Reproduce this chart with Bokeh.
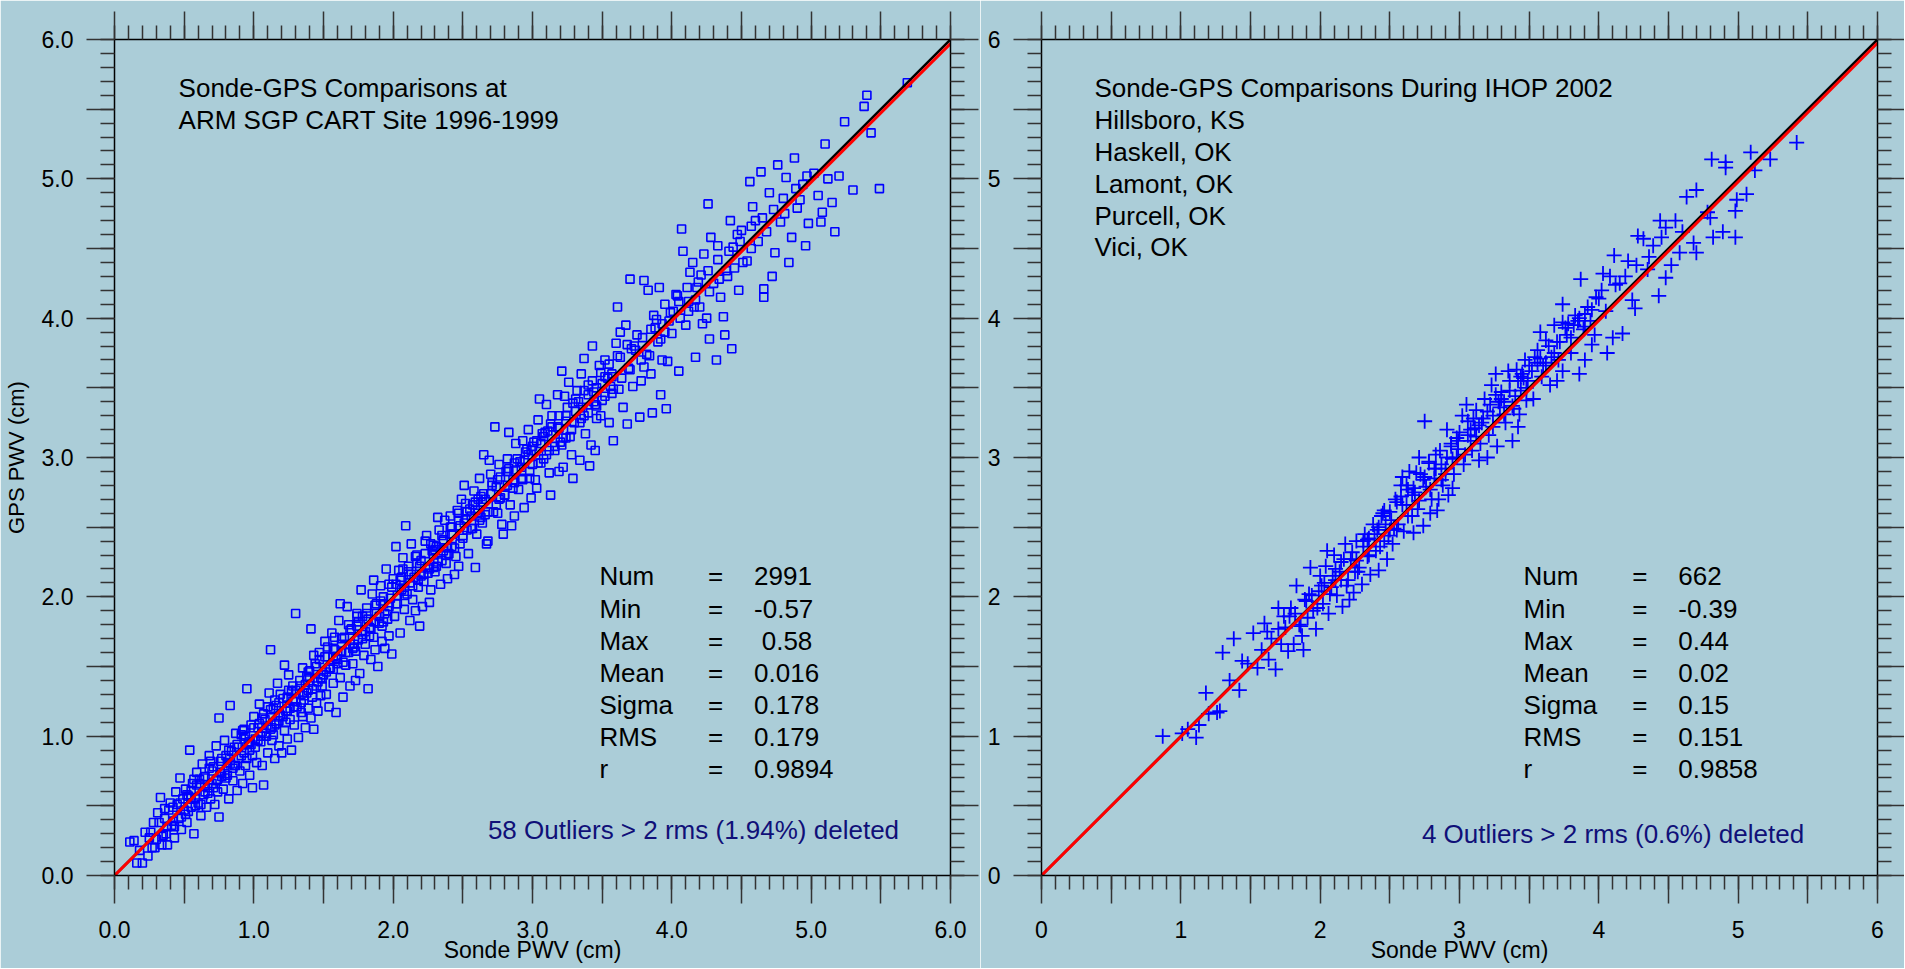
from bokeh.plotting import figure
from bokeh.layouts import row
from bokeh.models import Range1d, FixedTicker, LinearAxis, PrintfTickFormatter
from bokeh.core.properties import value
from bokeh.embed import file_html
from bokeh.resources import INLINE

FONT = "Liberation Sans"
BG = "#abcdd8"
NAVY = "#101078"

# ---------------- data ----------------
sonde_left = [
    0.11, 0.14, 0.16, 0.18, 0.20, 0.22, 0.24, 0.25, 0.27, 0.28,
    0.30, 0.31, 0.33, 0.34, 0.36, 0.37, 0.38, 0.40, 0.41, 0.43,
    0.44, 0.46, 0.47, 0.48, 0.49,
    0.50, 0.51, 0.52, 0.53, 0.54, 0.55, 0.56, 0.57, 0.58, 0.59,
    0.60, 0.61, 0.62, 0.63, 0.64, 0.65, 0.66, 0.67, 0.68, 0.69,
    0.70, 0.71, 0.72, 0.73, 0.74, 0.75, 0.75, 0.76, 0.77, 0.78,
    0.79, 0.80, 0.81, 0.82, 0.83, 0.84, 0.85, 0.86, 0.87, 0.88,
    0.89, 0.90, 0.91, 0.92, 0.93, 0.94, 0.95, 0.96, 0.97, 0.98,
    0.99, 0.99, 0.97, 0.93, 0.86,
    1.00, 1.01, 1.02, 1.03, 1.04, 1.05, 1.06, 1.07, 1.08, 1.09,
    1.10, 1.11, 1.12, 1.12, 1.13, 1.14, 1.15, 1.16, 1.17, 1.18,
    1.19, 1.20, 1.21, 1.22, 1.23, 1.24, 1.25, 1.26, 1.27, 1.28,
    1.29, 1.30, 1.30, 1.31, 1.32, 1.33, 1.34, 1.35, 1.36, 1.37,
    1.38, 1.39, 1.40, 1.41, 1.41, 1.42, 1.43, 1.44, 1.45, 1.46,
    1.47, 1.48, 1.49, 1.35, 1.25, 1.15, 1.05, 1.45, 1.22, 1.38,
    1.50, 1.51, 1.52, 1.53, 1.54, 1.55, 1.56, 1.57, 1.58, 1.59,
    1.60, 1.61, 1.62, 1.63, 1.64, 1.65, 1.66, 1.67, 1.68, 1.69,
    1.70, 1.71, 1.72, 1.73, 1.74, 1.75, 1.76, 1.77, 1.78, 1.79,
    1.80, 1.81, 1.82, 1.83, 1.84, 1.85, 1.86, 1.87, 1.88, 1.89,
    1.90, 1.91, 1.92, 1.93, 1.94, 1.95, 1.96, 1.97, 1.98, 1.99,
    1.62, 1.74, 1.86, 1.93, 1.57,
    2.00, 2.01, 2.02, 2.03, 2.04, 2.05, 2.06, 2.07, 2.08, 2.09,
    2.10, 2.11, 2.12, 2.13, 2.14, 2.15, 2.16, 2.17, 2.18, 2.19,
    2.20, 2.22, 2.24, 2.26, 2.28, 2.30, 2.32, 2.34, 2.36, 2.38,
    2.40, 2.42, 2.44, 2.46, 2.48, 2.21, 2.27, 2.33, 2.39, 2.45,
    2.23, 2.29, 2.35, 2.41, 2.47, 2.25, 2.31, 2.37, 2.43, 2.49,
    2.50, 2.52, 2.54, 2.56, 2.58, 2.60, 2.62, 2.64, 2.66, 2.68,
    2.70, 2.72, 2.74, 2.76, 2.78, 2.80, 2.82, 2.84, 2.86, 2.88,
    2.90, 2.92, 2.94, 2.96, 2.98, 2.51, 2.57, 2.63, 2.69, 2.75,
    2.81, 2.87, 2.93, 2.99, 2.55, 2.65, 2.79, 2.91, 2.67, 2.83,
    2.59, 2.73, 2.85, 2.97, 2.61,
    3.00, 3.02, 3.04, 3.06, 3.08, 3.10, 3.12, 3.14, 3.16, 3.18,
    3.20, 3.22, 3.24, 3.26, 3.28, 3.30, 3.32, 3.34, 3.36, 3.38,
    3.40, 3.42, 3.44, 3.46, 3.48, 3.05, 3.13, 3.21, 3.29, 3.37,
    3.45, 3.11, 3.27, 3.43, 3.19, 3.35, 3.49, 3.03, 3.23, 3.41,
    3.50, 3.52, 3.55, 3.57, 3.60, 3.62, 3.65, 3.67, 3.70, 3.72,
    3.75, 3.77, 3.80, 3.82, 3.85, 3.87, 3.90, 3.92, 3.95, 3.97,
    3.70, 3.58, 3.63, 3.68, 3.78, 3.83, 3.88, 3.93, 3.98, 3.54,
    3.73, 3.86, 3.96, 3.61, 3.91,
    4.00, 4.03, 4.07, 4.10, 4.13, 4.17, 4.20, 4.23, 4.27, 4.30,
    4.33, 4.37, 4.40, 4.43, 4.47, 4.26, 4.05, 4.15, 4.35, 4.45,
    4.12, 4.22, 4.32, 4.42, 4.08, 4.18, 4.28, 4.38, 4.48, 4.25,
    4.50, 4.54, 4.58, 4.62, 4.66, 4.66, 4.70, 4.74, 4.78, 4.82,
    4.86, 4.90, 4.94, 4.98, 4.56, 4.64, 4.72, 4.80, 4.88, 4.96,
    4.60, 4.76, 4.92, 4.84, 4.68,
    5.07, 5.10, 5.17, 5.24, 5.30, 5.38, 5.40, 5.43, 5.49, 5.69,
    5.02, 5.05, 5.12, 5.20, 5.15, 5.08,
    # denser core of the band
    0.32, 0.35, 0.39, 0.42, 0.45, 0.48, 0.52, 0.55, 0.58, 0.61,
    0.64, 0.67, 0.70, 0.73, 0.76, 0.79, 0.82, 0.85, 0.88, 0.91,
    0.94, 0.97, 1.00, 1.03, 1.06, 1.09, 1.12, 1.15, 1.18, 1.21,
    1.24, 1.27, 1.30, 1.33, 1.36, 1.39, 1.42, 1.45, 1.48, 1.51,
    1.54, 1.57, 1.60, 1.63, 1.66, 1.69, 1.72, 1.75, 1.78, 1.81,
    1.84, 1.87, 1.90, 1.93, 1.96, 1.99, 2.02, 2.05, 2.08, 2.11,
    2.14, 2.17, 2.20, 2.23, 2.26, 2.29, 2.32, 2.35, 2.38, 2.41,
    2.44, 2.47, 2.50, 2.53, 2.56, 2.59, 2.62, 2.65, 2.68, 2.71,
    2.74, 2.77, 2.80, 2.83, 2.86, 2.89, 2.92, 2.95, 2.98, 3.01,
    3.04, 3.07, 3.10, 3.13, 3.16, 3.19, 3.22, 3.25, 3.28, 3.31,
    3.34, 3.37, 3.40, 3.43, 3.46, 3.49, 3.52, 3.55, 3.58, 3.61,
    0.36, 0.43, 0.51, 0.57, 0.62, 0.69, 0.74, 0.81, 0.87, 0.92,
    0.98, 1.04, 1.10, 1.14, 1.19, 1.23, 1.28, 1.34, 1.39, 1.43,
    1.49, 1.53, 1.58, 1.64, 1.68, 1.73, 1.78, 1.83, 1.88, 1.92,
    1.97, 2.03, 2.07, 2.12, 2.16, 2.22, 2.27, 2.31, 2.36, 2.42,
    2.47, 2.51, 2.57, 2.61, 2.66, 2.71, 2.77, 2.82, 2.87, 2.93,
    2.97, 3.03, 3.08, 3.14, 3.19, 3.24, 3.29, 3.35, 3.40, 3.46,
    3.52, 3.57, 3.63, 3.69, 3.74, 3.79, 3.84, 3.89, 3.95, 4.01,
    4.06, 4.11, 4.16, 4.21, 4.27, 4.33, 4.39, 4.44, 4.51, 4.57,
    0.26, 0.29, 0.34, 0.38, 0.42, 0.47, 0.53, 0.59, 0.65, 0.71,
    0.77, 0.83, 0.89, 0.95, 1.01, 1.07, 1.13, 1.18, 1.24, 1.29,
    1.35, 1.40, 1.46, 1.52, 1.57, 1.63, 1.69, 1.74, 1.80, 1.86,
    1.91, 1.97, 2.02, 2.08, 2.13, 2.19, 2.25, 2.30, 2.36, 2.42,
    2.48, 2.53, 2.59, 2.64, 2.70, 2.76, 2.82, 2.88, 2.94, 3.00,
    3.06, 3.12, 3.18, 3.24, 3.31, 3.37, 3.44, 3.50, 3.57, 3.64,
    3.71, 3.78, 3.85, 3.92, 3.99, 4.05, 4.12, 4.19, 4.26, 4.34,
    4.41, 4.49, 4.57, 4.65, 4.73, 4.81, 4.89, 4.97, 0.55, 0.68,
    0.80, 0.93, 1.06, 1.16, 1.26, 1.37, 1.47, 1.59, 1.71, 1.82,
    1.94, 2.06, 2.18, 2.29, 2.39, 2.52, 2.63, 2.75, 2.87, 2.99,
    3.09, 3.21, 3.33, 3.45, 3.56, 3.68, 3.80, 3.93, 4.04, 4.17,
]
gps_left = [
    0.24, 0.25, 0.09, 0.18, 0.09, 0.31, 0.14, 0.27, 0.20, 0.38,
    0.26, 0.45, 0.56, 0.22, 0.41, 0.30, 0.22, 0.52, 0.36, 0.27,
    0.60, 0.41, 0.70, 0.33, 0.55,
    0.47, 0.62, 0.38, 0.57, 0.90, 0.49, 0.66, 0.30, 0.55, 0.74,
    0.52, 0.69, 0.43, 0.80, 0.58, 0.71, 0.49, 0.63, 0.86, 0.55,
    0.66, 0.78, 0.51, 0.93, 0.60, 1.13, 0.42, 0.74, 0.84, 0.62,
    0.97, 0.70, 0.81, 0.55, 1.22, 0.89, 0.68, 0.79, 1.02, 0.61,
    0.84, 0.75, 1.01, 0.66, 0.88, 0.79, 1.34, 0.95, 0.72, 1.08,
    0.86, 0.63, 0.96, 1.05, 0.92,
    1.14, 0.92, 0.81, 1.06, 1.23, 0.96, 0.79, 0.65, 1.12, 1.00,
    0.88, 1.31, 1.62, 1.05, 0.97, 1.20, 0.84, 1.09, 1.38, 0.93,
    1.15, 0.88, 1.27, 1.04, 1.18, 0.98, 1.44, 1.12, 0.90, 1.25,
    1.08, 1.88, 1.33, 1.21, 0.99, 1.36, 1.17, 1.49, 1.26, 1.06,
    1.31, 1.20, 1.42, 1.77, 1.13, 1.28, 1.05, 1.52, 1.36, 1.18,
    1.60, 1.29, 1.41, 1.14, 1.33, 1.26, 1.00, 1.24, 1.51, 1.43,
    1.44, 1.68, 1.30, 1.57, 1.21, 1.49, 1.74, 1.38, 1.62, 1.17,
    1.55, 1.83, 1.42, 1.66, 1.28, 1.71, 1.51, 1.93, 1.60, 1.36,
    1.77, 1.52, 1.64, 1.40, 1.86, 1.69, 1.45, 2.05, 1.73, 1.58,
    1.66, 1.92, 1.34, 1.78, 1.55, 2.02, 1.71, 1.62, 1.88, 1.50,
    1.81, 2.08, 1.68, 1.95, 1.63, 2.20, 1.84, 1.72, 1.99, 1.59,
    1.95, 1.88, 2.12, 1.82, 1.48,
    2.13, 1.86, 2.36, 1.95, 2.19, 1.74, 2.05, 2.28, 1.91, 2.51,
    2.02, 2.22, 1.83, 2.38, 1.98, 2.14, 1.90, 2.30, 2.07, 1.79,
    2.26, 2.11, 2.44, 1.96, 2.33, 2.18, 2.57, 2.09, 2.41, 2.24,
    2.31, 2.50, 2.16, 2.62, 2.38, 1.93, 2.05, 2.48, 2.13, 2.29,
    2.40, 2.21, 2.26, 2.58, 2.22, 2.17, 2.36, 2.55, 2.45, 2.70,
    2.42, 2.67, 2.31, 2.58, 2.76, 2.45, 2.85, 2.53, 2.70, 2.40,
    2.88, 2.61, 2.79, 2.95, 2.52, 2.73, 2.99, 2.66, 2.84, 3.10,
    2.77, 2.93, 2.64, 3.06, 2.85, 2.80, 2.49, 2.72, 2.98, 2.60,
    2.90, 2.58, 3.12, 2.71, 2.63, 3.02, 2.45, 2.97, 2.38, 3.18,
    2.21, 3.22, 2.51, 3.20, 2.60,
    3.08, 2.84, 3.27, 2.96, 3.15, 3.38, 2.89, 3.22, 3.05, 3.45,
    3.11, 2.93, 3.30, 3.54, 3.02, 3.25, 3.48, 2.98, 3.36, 3.17,
    3.52, 3.09, 3.40, 3.28, 3.66, 3.42, 2.73, 3.62, 2.85, 3.71,
    3.05, 3.19, 3.15, 3.80, 2.90, 3.60, 3.30, 2.78, 3.44, 2.94,
    3.41, 3.70, 3.25, 3.58, 3.82, 3.49, 3.36, 3.95, 3.63, 3.51,
    3.88, 3.29, 4.27, 3.74, 3.60, 4.02, 3.83, 3.45, 4.10, 3.69,
    4.28, 3.12, 3.90, 3.24, 3.55, 4.20, 3.93, 3.70, 3.98, 3.57,
    3.80, 3.32, 3.35, 4.08, 4.22,
    3.89, 4.17, 4.64, 3.95, 4.33, 3.72, 4.08, 4.46, 3.85, 4.25,
    4.52, 4.01, 4.30, 3.78, 4.60, 4.82, 3.62, 4.40, 4.15, 4.36,
    4.12, 3.96, 3.70, 4.70, 4.48, 4.22, 4.58, 3.88, 4.20, 4.00,
    4.63, 4.41, 4.80, 4.55, 4.15, 4.21, 4.90, 4.47, 4.69, 5.01,
    4.58, 4.79, 4.96, 4.68, 4.98, 5.05, 4.30, 4.86, 5.15, 4.52,
    4.70, 5.10, 4.85, 4.40, 4.62,
    4.69, 5.25, 4.62, 5.41, 4.92, 5.52, 5.60, 5.33, 4.93, 5.69,
    5.04, 4.88, 5.00, 5.02, 4.83, 4.76,
    # denser core of the band
    0.38, 0.29, 0.47, 0.39, 0.51, 0.42, 0.58, 0.61, 0.50, 0.66,
    0.70, 0.59, 0.75, 0.68, 0.82, 0.73, 0.90, 0.77, 0.94, 0.86,
    1.00, 0.90, 1.06, 0.97, 1.13, 1.02, 1.19, 1.08, 1.24, 1.14,
    1.18, 1.32, 1.25, 1.40, 1.29, 1.46, 1.34, 1.50, 1.42, 1.57,
    1.48, 1.63, 1.52, 1.70, 1.60, 1.76, 1.66, 1.82, 1.70, 1.88,
    1.77, 1.94, 1.86, 2.00, 1.90, 2.07, 1.95, 2.12, 2.01, 2.18,
    2.08, 2.24, 2.15, 2.31, 2.20, 2.37, 2.25, 2.44, 2.30, 2.50,
    2.35, 2.55, 2.44, 2.61, 2.49, 2.68, 2.55, 2.74, 2.61, 2.80,
    2.66, 2.86, 2.73, 2.92, 2.78, 2.99, 2.85, 3.04, 2.90, 3.11,
    2.96, 3.17, 3.02, 3.24, 3.08, 3.30, 3.14, 3.36, 3.20, 3.42,
    3.25, 3.48, 3.32, 3.55, 3.37, 3.61, 3.44, 3.67, 3.49, 3.73,
    0.48, 0.35, 0.44, 0.69, 0.51, 0.82, 0.69, 0.72, 0.79, 1.04,
    0.94, 1.09, 1.21, 1.01, 1.30, 1.10, 1.36, 1.24, 1.33, 1.58,
    1.36, 1.64, 1.71, 1.53, 1.80, 1.61, 1.86, 1.72, 1.95, 1.79,
    2.09, 2.01, 2.20, 2.10, 2.29, 2.16, 2.38, 2.22, 2.33, 2.36,
    2.60, 2.53, 2.66, 2.70, 2.59, 2.82, 2.71, 2.90, 2.96, 2.84,
    3.02, 3.12, 2.99, 3.30, 3.21, 3.14, 3.39, 3.28, 3.45, 3.50,
    3.58, 3.46, 3.72, 3.64, 3.77, 3.86, 3.73, 3.99, 3.90, 4.05,
    4.00, 4.22, 4.08, 4.31, 4.19, 4.42, 4.34, 4.51, 4.40, 4.66,
    0.31, 0.20, 0.28, 0.35, 0.49, 0.52, 0.46, 0.65, 0.60, 0.63,
    0.71, 0.80, 0.92, 0.84, 0.98, 1.16, 1.06, 1.11, 1.28, 1.21,
    1.31, 1.47, 1.39, 1.46, 1.57, 1.61, 1.66, 1.79, 1.75, 1.82,
    1.97, 1.93, 2.09, 2.04, 2.16, 2.22, 2.21, 2.34, 2.40, 2.45,
    2.51, 2.48, 2.62, 2.68, 2.74, 2.70, 2.80, 2.91, 2.98, 2.95,
    3.10, 3.05, 3.22, 3.26, 3.33, 3.30, 3.47, 3.53, 3.60, 3.57,
    3.78, 3.70, 3.92, 3.85, 4.04, 4.12, 4.05, 4.26, 4.34, 4.28,
    4.48, 4.55, 4.50, 4.72, 4.78, 4.75, 4.93, 5.02, 0.56, 0.77,
    0.86, 0.98, 1.03, 1.22, 1.20, 1.37, 1.55, 1.56, 1.63, 1.84,
    1.88, 2.14, 2.12, 2.30, 2.35, 2.56, 2.57, 2.84, 2.82, 3.05,
    3.18, 3.09, 3.40, 3.38, 3.51, 3.81, 3.65, 3.96, 4.16, 4.13,
]

sonde_right = [
    0.87, 1.01, 1.05, 1.11, 1.13, 1.18, 1.26, 1.28, 1.30, 1.38,
    1.44, 1.20, 1.35, 1.42, 1.48,
    1.52, 1.55, 1.58, 1.60, 1.63, 1.65, 1.68, 1.70, 1.72, 1.75,
    1.77, 1.79, 1.81, 1.83, 1.85, 1.87, 1.89, 1.91, 1.93, 1.95,
    1.97, 1.99, 1.62, 1.74, 1.88,
    2.00, 2.02, 2.04, 2.06, 2.08, 2.10, 2.12, 2.14, 2.16, 2.18,
    2.20, 2.22, 2.24, 2.26, 2.28, 2.30, 2.32, 2.34, 2.36, 2.38,
    2.40, 2.42, 2.44, 2.46, 2.48, 2.05, 2.15, 2.25, 2.35, 2.45,
    2.11, 2.21, 2.31, 2.41, 2.49,
    2.50, 2.52, 2.54, 2.56, 2.58, 2.60, 2.62, 2.64, 2.66, 2.68,
    2.70, 2.72, 2.74, 2.76, 2.78, 2.80, 2.82, 2.84, 2.86, 2.88,
    2.90, 2.92, 2.94, 2.96, 2.98, 2.55, 2.63, 2.71, 2.79, 2.87,
    2.95, 2.59, 2.67, 2.83, 2.91, 2.99, 2.53, 2.75, 2.85, 2.69,
    3.00, 3.03, 3.06, 3.09, 3.12, 3.15, 3.18, 3.21, 3.24, 3.27,
    3.30, 3.33, 3.36, 3.39, 3.42, 3.45, 3.48, 3.05, 3.14, 3.23,
    3.32, 3.41, 3.47, 3.11, 3.20, 3.29, 3.38, 3.44, 3.02, 3.35,
    3.26, 3.17, 3.08, 3.43, 3.49,
    3.50, 3.53, 3.56, 3.59, 3.62, 3.65, 3.68, 3.71, 3.74, 3.77,
    3.80, 3.83, 3.86, 3.89, 3.92, 3.95, 3.98, 3.58, 3.66, 3.74,
    3.82, 3.90, 3.97, 3.70, 3.87,
    4.03, 4.06, 4.10, 4.11, 4.17, 4.21, 4.24, 4.26, 4.28, 4.32,
    4.39, 4.43, 4.44, 4.48, 4.48, 4.52, 4.55, 4.58, 4.63, 4.68,
    4.70, 4.70, 4.78, 4.80, 4.81, 4.82, 4.89, 4.91, 4.91, 4.98,
    4.98, 4.99, 5.06, 5.09, 5.12, 5.23, 5.42, 4.15, 4.35, 4.60,
    # denser core
    1.82, 1.86, 1.90, 1.94, 1.98, 2.03, 2.07, 2.11, 2.15, 2.19,
    2.23, 2.27, 2.31, 2.35, 2.39, 2.43, 2.47, 2.51, 2.55, 2.59,
    2.63, 2.67, 2.71, 2.75, 2.79, 2.83, 2.87, 2.91, 2.95, 2.99,
    3.04, 3.08, 3.12, 3.16, 3.20, 3.24, 3.28, 3.32, 3.36, 3.40,
    3.44, 3.48, 3.52, 3.56, 3.60, 3.64, 3.68, 3.72, 3.76, 3.80,
    3.85, 3.90, 3.95, 4.00, 4.05, 4.12, 4.19, 4.27, 4.36, 4.45,
    1.92, 2.01, 2.09, 2.17, 2.26, 2.34, 2.42, 2.50, 2.58, 2.66,
    2.74, 2.82, 2.90, 2.98, 3.06, 3.14, 3.22, 3.30, 3.38, 3.46,
    3.54, 3.62, 3.70, 3.78, 3.86, 3.94, 4.02, 1.70, 1.78, 2.46,
    2.62, 2.78, 2.94, 3.10, 3.26, 3.42, 3.58, 3.74, 3.90, 4.08,
]
gps_right = [
    1.00, 1.02, 1.05, 0.99, 1.08, 1.31, 1.17, 1.18, 1.60, 1.70,
    1.54, 1.16, 1.40, 1.33, 1.52,
    1.74, 1.49, 1.62, 1.81, 1.55, 1.70, 1.48, 1.92, 1.66, 1.78,
    1.61, 1.92, 1.66, 2.08, 1.80, 1.72, 1.98, 1.85, 2.21, 1.90,
    1.77, 2.04, 1.75, 1.86, 1.62,
    2.15, 1.95, 2.22, 1.88, 2.07, 2.30, 2.01, 2.18, 1.93, 2.38,
    2.12, 2.27, 2.03, 2.40, 2.21, 2.09, 2.45, 2.29, 2.16, 2.52,
    2.33, 2.19, 2.58, 2.40, 2.27, 2.33, 2.25, 2.18, 2.42, 2.60,
    2.12, 1.98, 2.36, 2.48, 2.44,
    2.61, 2.38, 2.70, 2.52, 2.80, 2.47, 2.66, 2.90, 2.58, 2.75,
    2.63, 2.88, 2.51, 2.79, 2.96, 2.70, 2.85, 2.62, 3.05, 2.80,
    2.92, 2.73, 3.10, 2.88, 3.00, 2.68, 2.77, 3.00, 2.60, 2.95,
    2.78, 2.86, 2.46, 3.02, 3.20, 3.12, 2.49, 3.26, 2.70, 2.89,
    3.18, 2.95, 3.26, 3.05, 3.34, 3.10, 3.42, 3.16, 3.30, 3.08,
    3.47, 3.25, 3.55, 3.35, 3.22, 3.60, 3.41, 3.38, 2.98, 3.52,
    3.40, 3.63, 3.70, 3.21, 3.00, 3.36, 3.12, 3.48, 3.30, 3.62,
    3.60, 3.28, 3.12, 3.31, 3.55,
    3.66, 3.42, 3.77, 3.58, 3.84, 3.52, 3.95, 3.70, 3.62, 3.88,
    3.75, 4.02, 3.60, 3.92, 4.08, 3.81, 4.15, 3.90, 3.72, 4.10,
    3.95, 3.70, 3.88, 3.55, 4.28,
    4.32, 3.75, 3.86, 4.45, 3.89, 4.41, 4.13, 4.07, 4.59, 4.57,
    4.52, 4.16, 4.70, 4.65, 4.29, 4.38, 4.70, 4.47, 4.87, 4.54,
    4.92, 4.47, 4.76, 4.72, 5.14, 4.58, 4.62, 5.12, 5.08, 4.77,
    4.58, 4.85, 4.89, 5.19, 5.06, 5.14, 5.26, 4.25, 4.35, 4.62,
    # denser core
    1.88, 1.79, 1.97, 2.01, 1.92, 2.10, 2.02, 2.20, 2.12, 2.08,
    2.32, 2.18, 2.40, 2.30, 2.45, 2.36, 2.52, 2.55, 2.48, 2.66,
    2.58, 2.78, 2.69, 2.86, 2.77, 2.92, 2.84, 3.00, 2.99, 3.06,
    3.02, 3.20, 3.15, 3.25, 3.33, 3.22, 3.40, 3.31, 3.48, 3.44,
    3.58, 3.50, 3.62, 3.68, 3.66, 3.80, 3.75, 3.83, 3.93, 3.86,
    3.98, 3.94, 4.06, 4.14, 4.05, 4.24, 4.30, 4.38, 4.44, 4.58,
    2.02, 2.08, 2.15, 2.27, 2.26, 2.41, 2.50, 2.48, 2.72, 2.73,
    2.84, 2.92, 2.88, 3.14, 3.16, 3.23, 3.38, 3.42, 3.37, 3.57,
    3.72, 3.68, 3.83, 3.96, 4.00, 3.98, 4.20, 1.77, 1.86, 2.62,
    2.80, 2.97, 3.08, 3.28, 3.45, 3.55, 3.71, 3.97, 4.03, 4.30,
]
assert len(sonde_left) == len(gps_left), (len(sonde_left), len(gps_left))
assert len(sonde_right) == len(gps_right), (len(sonde_right), len(gps_right))

# 1:1 line and fitted line end points (cm)
one_to_one_x = [0.0, 6.0]
one_to_one_y = [0.0, 6.0]
fit_left_x = [0.0, 6.0]
fit_left_y = [0.0, 5.97]
fit_right_x = [0.0, 6.0]
fit_right_y = [0.0, 5.975]

left_title = ["Sonde-GPS Comparisons at", "ARM SGP CART Site 1996-1999"]
right_title = ["Sonde-GPS Comparisons During IHOP 2002", "Hillsboro, KS",
               "Haskell, OK", "Lamont, OK", "Purcell, OK", "Vici, OK"]
stat_names = ["Num", "Min", "Max", "Mean", "Sigma", "RMS", "r"]
left_stats = ["2991", "-0.57", "0.58", "0.016", "0.178", "0.179", "0.9894"]
right_stats = ["662", "-0.39", "0.44", "0.02", "0.15", "0.151", "0.9858"]
left_note = "58 Outliers > 2 rms (1.94%) deleted"
right_note = "4 Outliers > 2 rms (0.6%) deleted"

x_label = "Sonde PWV (cm)"
y_label = "GPS PWV (cm)"
major_ticks = [0.0, 0.5, 1.0, 1.5, 2.0, 2.5, 3.0, 3.5, 4.0, 4.5, 5.0, 5.5, 6.0]
minor_ticks = [round(i * 0.1, 1) for i in range(61)]

FIG_H = 968
TICK_LONG = 28
TICK_SHORT = 14


def style_axis(ax, labelled, fmt=None, tick_out=TICK_LONG):
    ax.ticker = FixedTicker(ticks=major_ticks, minor_ticks=minor_ticks)
    ax.major_tick_in = 0
    ax.minor_tick_in = 0
    ax.major_tick_out = tick_out
    ax.minor_tick_out = TICK_SHORT
    ax.axis_line_color = "black"
    ax.axis_line_width = 1.5
    ax.major_tick_line_color = "#333333"
    ax.minor_tick_line_color = "#333333"
    ax.major_tick_line_width = 1.5
    ax.minor_tick_line_width = 1.5
    if labelled:
        ax.formatter = PrintfTickFormatter(format=fmt)
        ax.major_label_overrides = {t: "" for t in major_ticks if t != int(t)}
        ax.major_label_text_font = FONT
        ax.major_label_text_font_size = "23px"
        ax.major_label_text_color = "black"
    else:
        ax.major_label_overrides = {t: "" for t in major_ticks}
        ax.major_label_text_font_size = "0px"
        ax.major_label_standoff = 0
        ax.axis_label_standoff = 0


def make_fig(width, b_left, b_right, fmt, right_tick, with_ylabel):
    p = figure(width=width, height=FIG_H, x_range=Range1d(0, 6), y_range=Range1d(0, 6),
               output_backend="svg", toolbar_location=None,
               min_border_left=b_left, min_border_right=b_right,
               min_border_top=39, min_border_bottom=93,
               background_fill_color=BG, border_fill_color=BG)
    p.outline_line_color = None
    p.xgrid.grid_line_color = None
    p.ygrid.grid_line_color = None

    xb = p.xaxis[0]
    yl = p.yaxis[0]
    style_axis(xb, True, fmt)
    style_axis(yl, True, fmt)
    xb.major_label_standoff = 17
    yl.major_label_standoff = 13
    xb.axis_label = x_label
    xb.axis_label_text_font = FONT
    xb.axis_label_text_font_size = "23px"
    xb.axis_label_text_font_style = "normal"
    xb.axis_label_text_color = "black"
    xb.axis_label_standoff = -4
    if with_ylabel:
        yl.axis_label = y_label
        yl.axis_label_text_font = FONT
        yl.axis_label_text_font_size = "22px"
        yl.axis_label_text_font_style = "normal"
        yl.axis_label_text_color = "black"
        yl.axis_label_standoff = 10

    top = LinearAxis()
    style_axis(top, False)
    p.add_layout(top, "above")
    rgt = LinearAxis()
    style_axis(rgt, False, tick_out=right_tick)
    p.add_layout(rgt, "right")
    return p


def add_text(p, xs, ys, texts, color="black", size="26px"):
    p.text(x=xs, y=ys, text=texts, text_font=value(FONT), text_font_size=size,
           text_color=color, text_baseline="middle", text_align="left")


# ---------------- left panel ----------------
p1 = make_fig(980, 112, 30, "%.1f", TICK_LONG, True)
p1.scatter(sonde_left, gps_left, marker="square", size=8, fill_color=None,
           line_color="#0000ff", line_width=1.6)
p1.line(one_to_one_x, one_to_one_y, line_color="black", line_width=2.5)
p1.line(fit_left_x, fit_left_y, line_color="#ff0000", line_width=3)

row_y = [2.146 - 0.2305 * i for i in range(7)]
add_text(p1, [0.46, 0.46], [5.65, 5.42], left_title)
add_text(p1, [3.48] * 7, row_y, stat_names)
add_text(p1, [4.26] * 7, row_y, ["="] * 7)
add_text(p1, [4.59, 4.59, 4.645, 4.59, 4.59, 4.59, 4.59], row_y, left_stats)
add_text(p1, [2.68], [0.33], [left_note], color=NAVY)

# ---------------- right panel ----------------
p2 = make_fig(924, 61, 27, "%d", 27, False)
p2.scatter(sonde_right, gps_right, marker="cross", size=15,
           line_color="#0000ff", line_width=1.8)
p2.line(one_to_one_x, one_to_one_y, line_color="black", line_width=2.5)
p2.line(fit_right_x, fit_right_y, line_color="#ff0000", line_width=3)

add_text(p2, [0.38] * 6, [5.65 - 0.2285 * i for i in range(6)], right_title)
add_text(p2, [3.46] * 7, row_y, stat_names)
add_text(p2, [4.24] * 7, row_y, ["="] * 7)
add_text(p2, [4.57] * 7, row_y, right_stats)
add_text(p2, [2.73], [0.30], [right_note], color=NAVY)

layout = row(p1, p2, spacing=0)
open("out.html", "w").write(file_html(layout, INLINE))
